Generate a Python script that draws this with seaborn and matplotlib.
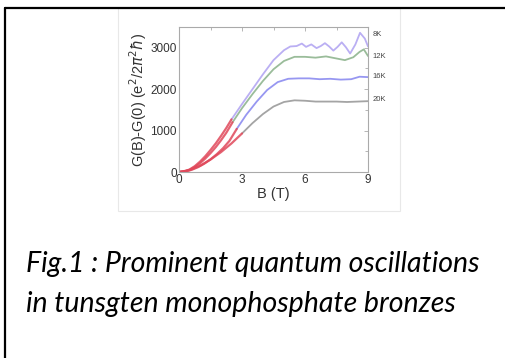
import pandas as pd
import matplotlib
matplotlib.use("Agg")
import matplotlib.pyplot as plt
from matplotlib.lines import Line2D
from matplotlib.patches import Rectangle
from matplotlib.ticker import MultipleLocator
import seaborn as sns

# ---------------------------------------------------------------
#   Magnetoconductance G(B)-G(0) at 8K, 12K, 16K, 20K
# ---------------------------------------------------------------

temps = ["8K", "12K", "16K", "20K"]
colors = ["#b3a6f2", "#8fb58f", "#8c8cf0", "#9a9a9a"]
fit_color = "#e0485a"

# low-field part (drawn in red)
b_low_8 = [0, 0.25, 0.5, 0.75, 1.0, 1.25, 1.5, 1.75, 2.0, 2.25, 2.5]
g_low_8 = [0, 15, 60, 140, 250, 380, 530, 690, 870, 1060, 1270]
b_low_12 = [0, 0.25, 0.5, 0.75, 1.0, 1.25, 1.5, 1.75, 2.0, 2.25, 2.55]
g_low_12 = [0, 12, 50, 118, 210, 325, 455, 600, 765, 945, 1200]
b_low_16 = [0, 0.3, 0.6, 0.9, 1.2, 1.5, 1.8, 2.1, 2.4, 2.75]
g_low_16 = [0, 13, 52, 115, 200, 305, 430, 575, 750, 1040]
b_low_20 = [0, 0.5, 1.0, 1.5, 2.0, 2.5, 3.0]
g_low_20 = [0, 45, 150, 300, 480, 690, 930]

# high-field part
b_hi_8 = [2.5, 3.0, 3.5, 4.0, 4.5, 5.0, 5.3, 5.6, 5.85, 6.05, 6.3, 6.55,
          6.75, 6.95, 7.15, 7.35, 7.55, 7.75, 7.95, 8.15, 8.4, 8.62, 8.85, 9.0]
g_hi_8 = [1270, 1640, 2000, 2360, 2700, 2940, 3030, 3040, 3100, 3020, 3080,
          2990, 3040, 3110, 3030, 2930, 3020, 3130, 3010, 2860, 3080, 3360,
          3220, 3030]
b_hi_12 = [2.55, 3.0, 3.5, 4.0, 4.5, 5.0, 5.5, 6.0, 6.5, 7.0, 7.5, 7.9,
           8.3, 8.6, 8.8, 9.0]
g_hi_12 = [1200, 1540, 1880, 2200, 2480, 2680, 2780, 2780, 2760, 2790,
           2740, 2700, 2770, 2900, 2960, 2800]
b_hi_16 = [2.75, 3.2, 3.7, 4.2, 4.7, 5.2, 5.7, 6.2, 6.7, 7.2, 7.7, 8.2,
           8.6, 9.0]
g_hi_16 = [1040, 1380, 1700, 1980, 2170, 2250, 2260, 2260, 2240, 2250,
           2230, 2240, 2300, 2290]
b_hi_20 = [3.0, 3.5, 4.0, 4.5, 5.0, 5.5, 6.0, 6.5, 7.0, 7.5, 8.0, 8.5, 9.0]
g_hi_20 = [930, 1180, 1400, 1580, 1690, 1730, 1720, 1700, 1700, 1700,
           1690, 1700, 1710]

label_y = [3330, 2800, 2300, 1750]

caption_lines = ["Fig.1 : Prominent quantum oscillations",
                 "in tunsgten monophosphate bronzes"]

# Build long tables
low = pd.concat([
    pd.DataFrame({"B": b, "G": g, "T": t})
    for b, g, t in zip([b_low_8, b_low_12, b_low_16, b_low_20],
                       [g_low_8, g_low_12, g_low_16, g_low_20], temps)
])
high = pd.concat([
    pd.DataFrame({"B": b, "G": g, "T": t})
    for b, g, t in zip([b_hi_8, b_hi_12, b_hi_16, b_hi_20],
                       [g_hi_8, g_hi_12, g_hi_16, g_hi_20], temps)
])

sns.set_style("white")
plt.rcParams["font.family"] = ["Liberation Sans", "DejaVu Sans"]

W, H = 505, 358
fig = plt.figure(figsize=(W / 100, H / 100), dpi=100)
ax = fig.add_axes([179 / W, 1 - 172 / H, 189 / W, 145 / H])

sns.lineplot(data=high, x="B", y="G", hue="T", palette=dict(zip(temps, colors)),
             sort=False, estimator=None, lw=1.3, alpha=0.9, legend=False, ax=ax)
sns.lineplot(data=low, x="B", y="G", units="T", color=fit_color,
             sort=False, estimator=None, lw=1.6, alpha=0.85, legend=False, ax=ax)

ax.set_xlim(0, 9)
ax.set_ylim(0, 3500)
ax.set_xticks([0, 3, 6, 9])
ax.set_yticks([0, 1000, 2000, 3000])
ax.xaxis.set_minor_locator(MultipleLocator(1.5))
ax.yaxis.set_minor_locator(MultipleLocator(500))
ax.tick_params(which="both", direction="in", top=True, right=True,
               color="#aaaaaa", width=0.6, labelsize=8.5, labelcolor="#333333",
               pad=1.5)
ax.tick_params(which="major", length=3)
ax.tick_params(which="minor", length=2)
for s in ax.spines.values():
    s.set_color("#aaaaaa")
    s.set_linewidth(0.8)
ax.set_xlabel("B (T)", fontsize=10.5, color="#333333", labelpad=1)
ax.set_ylabel(r"G(B)-G(0) (e$^2$/2$\pi^2\hbar$)", fontsize=10.5,
              color="#333333", labelpad=1)

for t, y in zip(temps, label_y):
    ax.text(9.2, y, t, fontsize=5.5, color="#444444", va="center", ha="left")

# light border of the inserted picture
fig.add_artist(Rectangle((118 / W, 1 - 211 / H), 282 / W, 203 / H,
                         transform=fig.transFigure, fill=False,
                         edgecolor="#e8e8e8", lw=0.8))

# outer frame (top and left)
fig.add_artist(Line2D([5 / W, 1], [1 - 8 / H, 1 - 8 / H],
                      transform=fig.transFigure, color="black", lw=1.6))
fig.add_artist(Line2D([5 / W, 5 / W], [0, 1 - 8 / H],
                      transform=fig.transFigure, color="black", lw=1.6))

for line, y_px in zip(caption_lines, [272, 312]):
    fig.text(26 / W, 1 - y_px / H, line, fontsize=20.5, style="italic",
             family=["Lato", "DejaVu Sans"], color="black", va="baseline")

fig.savefig("out.png", dpi=100)
